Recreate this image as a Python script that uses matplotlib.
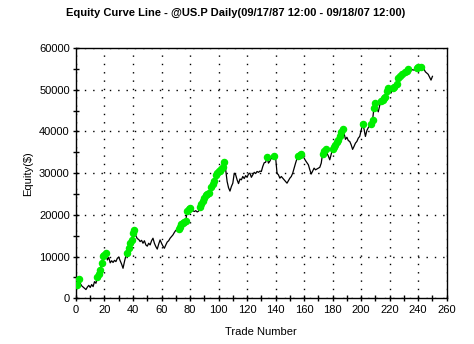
import matplotlib
matplotlib.use("Agg")
import matplotlib.pyplot as plt
from matplotlib.ticker import MultipleLocator

plt.rcParams['font.family'] = ['Liberation Sans', 'DejaVu Sans']

trades = list(range(1, 251))
equity = [
    3300, 4700, 3600, 3000, 2700, 2400, 2100, 2700, 3100, 2600,
    3300, 2800, 4000, 3600, 5000, 5800, 6700, 8400, 10100, 10500,
    10800, 9200, 9800, 8500, 9000, 8600, 9100, 8800, 9600, 9900,
    9000, 8200, 7200, 8800, 10200, 10900, 12000, 13200, 13900, 15700,
    16400, 15000, 14300, 14100, 13600, 13900, 13200, 13800, 12800, 12500,
    13200, 12800, 13800, 14400, 13200, 12400, 11800, 13000, 14000, 13200,
    12500, 12000, 12800, 13500, 13800, 14400, 14800, 15200, 15800, 16300,
    16200, 16700, 17200, 17700, 18100, 18400, 18600, 21000, 21300, 21600,
    21200, 21000, 20800, 21000, 20700, 20900, 21800, 22600, 23300, 24000,
    24700, 25000, 25300, 25000, 26800, 27400, 28000, 29600, 30000, 30400,
    30600, 31100, 31500, 32700, 30800, 28000, 26500, 25700, 26800, 27600,
    30000, 29600, 28400, 27500, 28600, 28400, 29200, 28700, 29400, 29000,
    29800, 30000, 29000, 29600, 30200, 29900, 30400, 30200, 30500, 30400,
    31600, 32500, 32600, 33800, 32400, 32900, 33600, 33500, 34100, 33800,
    30000, 29600, 28800, 29200, 28800, 28400, 28000, 27600, 28200, 28800,
    29200, 30000, 31200, 32400, 33500, 34200, 34400, 34600, 34200, 33600,
    33000, 32500, 32000, 30800, 29800, 30500, 31200, 30800, 31000, 31200,
    31400, 32400, 34700, 35400, 35800, 34800, 34100, 33200, 34500, 35900,
    36200, 36800, 37400, 38000, 38800, 39800, 40600, 39600, 38100, 38600,
    37800, 37600, 36800, 35700, 36400, 37200, 37600, 38400, 38800, 40200,
    41700, 40600, 38800, 40200, 40900, 41400, 41900, 42700, 45700, 46800,
    45500, 44700, 46200, 47300, 47500, 47900, 48300, 49700, 50300, 49500,
    49200, 50500, 50700, 50600, 51300, 52800, 53300, 53200, 53800, 53600,
    54200, 54600, 54900, 54700, 54600, 54800, 54700, 54800, 55300, 55400,
    55400, 55450, 55200, 55000, 54300, 54000, 53700, 53000, 52300, 53200,
]

title = "Equity Curve Line - @US.P Daily(09/17/87 12:00 - 09/18/07 12:00)"
xlabel = "Trade Number"
ylabel = "Equity($)"

# new equity highs
hx, hy = [], []
runmax = float('-inf')
for t, e in zip(trades, equity):
    if e > runmax:
        hx.append(t)
        hy.append(e)
        runmax = e

fig = plt.figure(figsize=(4.74, 3.44), dpi=100)
ax = fig.add_axes([0.1603, 0.1328, 0.7821, 0.7277])

ax.plot(trades, equity, color='black', linewidth=0.9, zorder=3)
ax.plot(hx, hy, linestyle='none', marker='o', markersize=4.4,
        markerfacecolor='#00ee00', markeredgecolor='#00ee00', zorder=4)

ax.set_xlim(0, 260)
ax.set_ylim(0, 60000)
ax.xaxis.set_major_locator(MultipleLocator(20))
ax.xaxis.set_minor_locator(MultipleLocator(10))
ax.yaxis.set_major_locator(MultipleLocator(10000))
ax.yaxis.set_minor_locator(MultipleLocator(5000))

ax.grid(True, which='major', color='black', linestyle=(0, (1, 5)), linewidth=1)
ax.tick_params(which='both', direction='inout', length=5, width=1,
               labelsize=8, colors='black', pad=2)
for s in ax.spines.values():
    s.set_linewidth(1)

fig.text(0.497, 1 - 12.5 / 344, title, fontsize=8, fontweight='bold',
         ha='center', va='center')
ax.set_xlabel(xlabel, fontsize=8, labelpad=9)
ax.set_ylabel(ylabel, fontsize=8, labelpad=4)

fig.savefig("out.png", dpi=100)
